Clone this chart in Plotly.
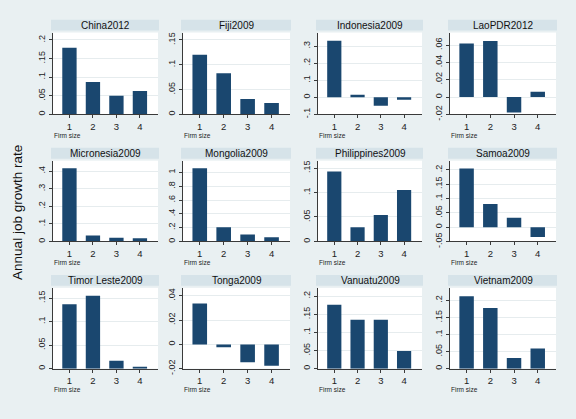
import plotly.graph_objects as go

# ---------------- data ----------------
countries = ["China2012", "Fiji2009", "Indonesia2009", "LaoPDR2012",
             "Micronesia2009", "Mongolia2009", "Philippines2009", "Samoa2009",
             "Timor Leste2009", "Tonga2009", "Vanuatu2009", "Vietnam2009"]
firm_size = [1, 2, 3, 4]
firm_size_labels = ["1", "2", "3", "4"]

china = [0.179, 0.087, 0.050, 0.063]
fiji = [0.120, 0.083, 0.031, 0.023]
indonesia = [0.332, 0.015, -0.050, -0.014]
laopdr = [0.0617, 0.0648, -0.0179, 0.0061]
micronesia = [0.417, 0.034, 0.022, 0.019]
mongolia = [1.062, 0.205, 0.100, 0.062]
philippines = [0.143, 0.029, 0.054, 0.105]
samoa = [0.205, 0.081, 0.033, -0.034]
timor_leste = [0.137, 0.155, 0.017, 0.004]
tonga = [0.0338, -0.0024, -0.0148, -0.0177]
vanuatu = [0.176, 0.135, 0.135, 0.049]
vietnam = [0.212, 0.178, 0.031, 0.059]

series = [china, fiji, indonesia, laopdr, micronesia, mongolia,
          philippines, samoa, timor_leste, tonga, vanuatu, vietnam]

tick_vals = [
    [0, 0.05, 0.1, 0.15, 0.2],
    [0, 0.05, 0.1, 0.15],
    [-0.1, 0, 0.1, 0.2, 0.3],
    [-0.02, 0, 0.02, 0.04, 0.06],
    [0, 0.1, 0.2, 0.3, 0.4],
    [0, 0.2, 0.4, 0.6, 0.8, 1],
    [0, 0.05, 0.1, 0.15],
    [-0.05, 0, 0.05, 0.1, 0.15, 0.2],
    [0, 0.05, 0.1, 0.15],
    [-0.02, 0, 0.02, 0.04],
    [0, 0.05, 0.1, 0.15, 0.2],
    [0, 0.05, 0.1, 0.15, 0.2],
]
tick_text = [
    ["0", ".05", ".1", ".15", ".2"],
    ["0", ".05", ".1", ".15"],
    ["-.1", "0", ".1", ".2", ".3"],
    ["-.02", "0", ".02", ".04", ".06"],
    ["0", ".1", ".2", ".3", ".4"],
    ["0", ".2", ".4", ".6", ".8", "1"],
    ["0", ".05", ".1", ".15"],
    ["-.05", "0", ".05", ".1", ".15", ".2"],
    ["0", ".05", ".1", ".15"],
    ["-.02", "0", ".02", ".04"],
    ["0", ".05", ".1", ".15", ".2"],
    ["0", ".05", ".1", ".15", ".2"],
]
y_ranges = [
    [0, 0.22], [0, 0.165], [-0.1, 0.38], [-0.02, 0.0745],
    [0, 0.46], [0, 1.17], [0, 0.165], [-0.05, 0.232],
    [0, 0.172], [-0.02, 0.0467], [0, 0.223], [0, 0.237],
]

# ---------------- layout geometry (pixels) ----------------
W, H = 576, 419
col_x = [(53, 158), (183, 290), (318, 422), (450, 556)]
row_y = [(33, 116), (163, 245), (292, 374)]   # top, bottom
strip_h = 11
strip_gap = 2

BG = "#E9F0F2"
STRIP = "#D6E3E9"
BAR = "#1A476F"
GRID = "#E6ECEE"
AXIS = "#3A3A3A"
FONT = "Liberation Sans, Arial, sans-serif"

fig = go.Figure()
layout = dict(
    width=W, height=H,
    margin=dict(l=0, r=0, t=0, b=0),
    paper_bgcolor=BG, plot_bgcolor="white",
    showlegend=False, bargap=0.39,
    font=dict(family=FONT, color="#222222", size=9),
)
shapes = []
annotations = []

for i, vals in enumerate(series):
    r, c = divmod(i, 4)
    x0, x1 = col_x[c]
    top, bot = row_y[r]
    idx = "" if i == 0 else str(i + 1)
    fig.add_trace(go.Bar(
        x=firm_size, y=vals, width=0.61,
        marker=dict(color=BAR, line=dict(width=0)),
        xaxis="x" + idx, yaxis="y" + idx,
    ))
    layout["xaxis" + idx] = dict(
        domain=[x0 / W, x1 / W], anchor="y" + idx,
        range=[0.3, 4.77], tickvals=firm_size, ticktext=firm_size_labels,
        showgrid=False, zeroline=False, showline=True, linecolor=AXIS,
        linewidth=1, ticks="outside", ticklen=3, tickcolor=AXIS,
        tickfont=dict(size=9.5, family=FONT, color="#222"), fixedrange=True,
    )
    layout["yaxis" + idx] = dict(
        domain=[1 - bot / H, 1 - top / H], anchor="x" + idx,
        range=y_ranges[i], tickvals=tick_vals[i], ticktext=tick_text[i],
        tickangle=-90, showgrid=True, gridcolor=GRID, gridwidth=1,
        zeroline=False, showline=True, linecolor=AXIS, linewidth=1,
        ticks="outside", ticklen=3, tickcolor=AXIS,
        tickfont=dict(size=9, family=FONT, color="#222"), fixedrange=True,
    )
    # title strip
    s_top = top - strip_gap - strip_h
    s_bot = top - strip_gap
    shapes.append(dict(
        type="rect", xref="paper", yref="paper",
        x0=(x0 - 2) / W, x1=(x1 + 1) / W,
        y0=1 - s_bot / H, y1=1 - s_top / H,
        fillcolor=STRIP, line=dict(width=0), layer="below",
    ))
    annotations.append(dict(
        text=countries[i], xref="paper", yref="paper",
        x=(x0 + x1) / 2 / W, y=1 - (s_top + s_bot) / 2 / H,
        xanchor="center", yanchor="middle", showarrow=False,
        font=dict(size=10, family=FONT, color="#111"),
    ))
    annotations.append(dict(
        text="Firm size", xref="paper", yref="paper",
        x=(x0 - 1) / W, y=1 - (bot + 21) / H,
        xanchor="left", yanchor="middle", showarrow=False,
        font=dict(size=6.5, family=FONT, color="#222"),
    ))

annotations.append(dict(
    text="Annual job growth rate", xref="paper", yref="paper",
    x=18 / W, y=1 - 216 / H, xanchor="center", yanchor="middle",
    textangle=-90, showarrow=False,
    font=dict(size=13.5, family=FONT, color="#111"),
))

layout["shapes"] = shapes
layout["annotations"] = annotations
fig.update_layout(**layout)
fig.write_html("out.html",
               config={"displayModeBar": False, "staticPlot": True},
               post_script="document.body.style.margin='0';"
                           "document.body.style.overflow='hidden';")
